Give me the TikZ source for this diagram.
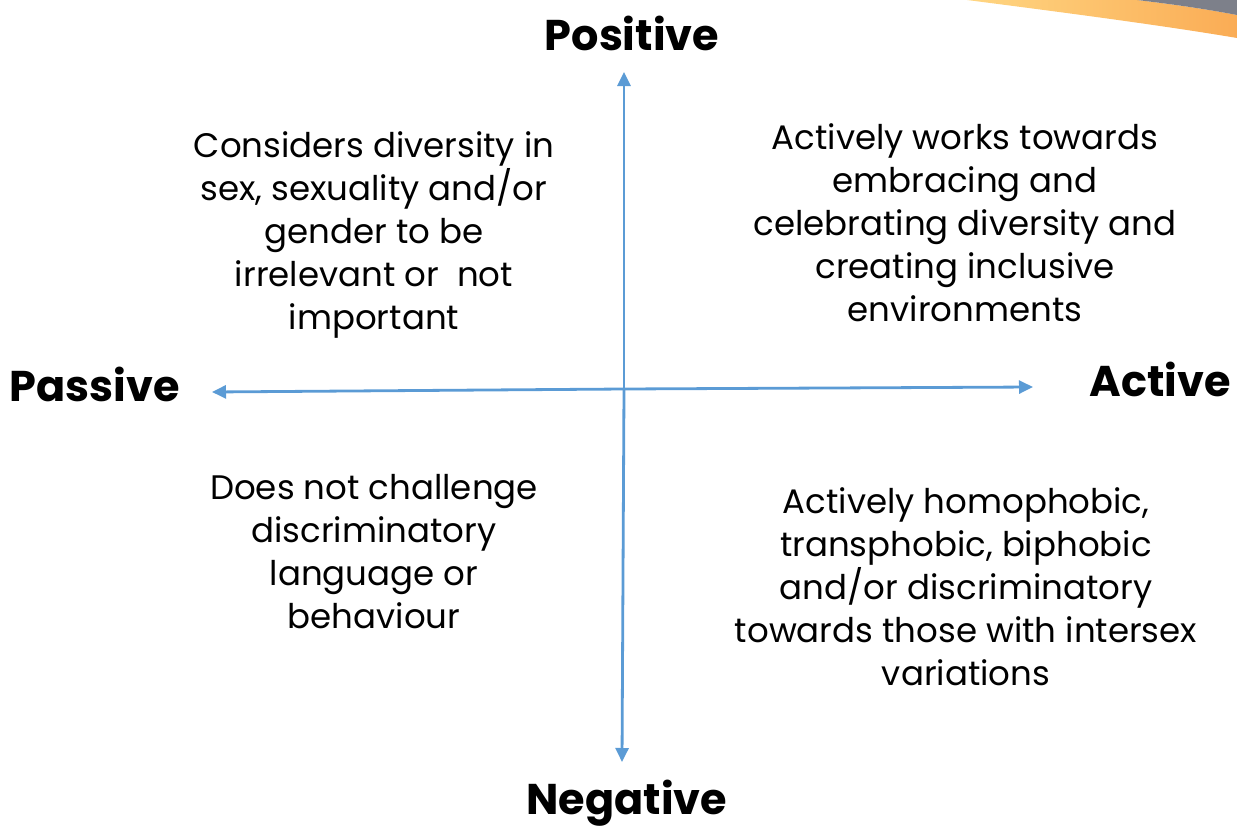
\documentclass[tikz,border=0pt]{standalone}
\usepackage{fontspec}
\usetikzlibrary{arrows.meta}
\setmainfont{Poppins}
\begin{document}
\begin{tikzpicture}[x=1pt,y=-1pt,
  axis/.style={draw=axisblue,line width=2.8pt,-{Triangle[length=14pt,width=13pt]}},
  pole/.style={font=\fontsize{43}{46}\selectfont\bfseries,inner sep=0pt},
  quad/.style={font=\fontsize{34}{43}\selectfont,align=center,inner sep=0pt}]
\definecolor{axisblue}{RGB}{91,155,213}
\definecolor{bandgray}{RGB}{125,128,138}
\definecolor{bandlight}{RGB}{255,214,130}
\definecolor{banddark}{RGB}{250,172,85}
\useasboundingbox (0,0) rectangle (1237,830);
% corner swoosh
\shade[left color=bandlight,right color=banddark]
  (967,0) .. controls (1060,12) and (1160,25) .. (1237,38) -- (1237,15)
  .. controls (1200,8) and (1170,4) .. (1137,0) -- cycle;
\fill[bandgray] (1137,0) .. controls (1170,4) and (1200,8) .. (1237,15) -- (1237,0) -- cycle;
% axes
\coordinate (ctr) at (624,389);
\coordinate (top) at (624,72);
\coordinate (bot) at (622,762);
\coordinate (lft) at (212,392);
\coordinate (rgt) at (1033,387);
\draw[axis] (ctr) -- (top);
\draw[axis] (ctr) -- (bot);
\draw[axis] (ctr) -- (lft);
\draw[axis] (ctr) -- (rgt);
% pole labels
\node[pole] (pos) at (632,33) {Positive};
\node[pole] (neg) at (627,803) {Negative};
\node[pole] (pas) at (95,384) {Passive};
\node[pole] (act) at (1160,379) {Active};
% quadrant texts
\node[quad] (tl) at (374,235) {Considers diversity in\\sex, sexuality and/or\\gender to be\\irrelevant or\ \ not\\important};
\node[quad] (tr) at (965,223) {Actively works towards\\embracing and\\celebrating diversity and\\creating inclusive\\environments};
\node[quad] (bl) at (374,552) {Does not challenge\\discriminatory\\language or\\behaviour};
\node[quad] (br) at (966,587) {Actively homophobic,\\transphobic, biphobic\\and/or discriminatory\\towards those with intersex\\variations};
\end{tikzpicture}
\end{document}
